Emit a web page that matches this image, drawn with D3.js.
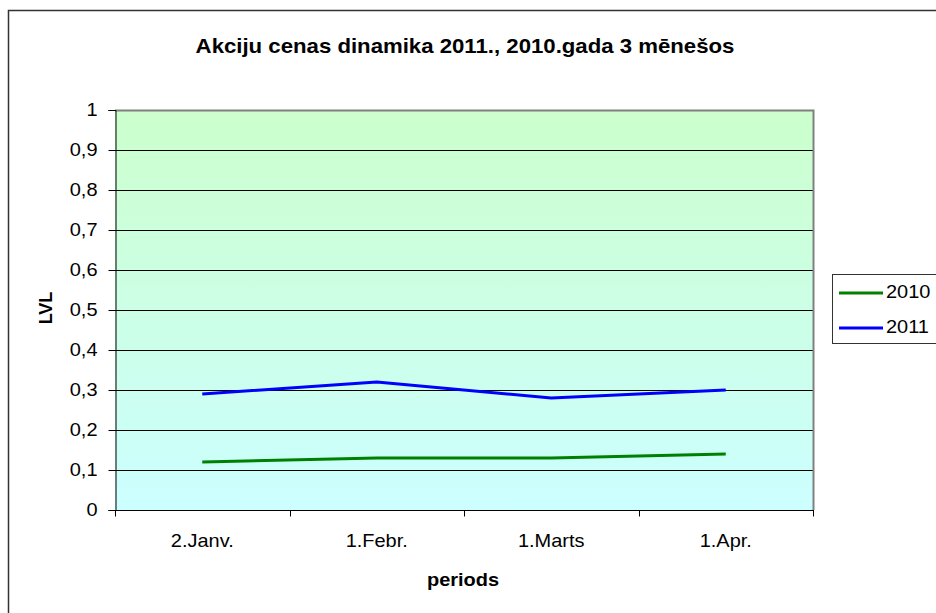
<!DOCTYPE html>
<html>
<head>
<meta charset="utf-8">
<script src="https://cdn.jsdelivr.net/npm/d3@7"></script>
<style>
  body { margin: 0; background: #fff; }
  svg { display: block; font-family: Arial, "Liberation Sans", sans-serif; }
</style>
</head>
<body>
<svg width="936" height="613"></svg>
<script>
var categories = ["2.Janv.", "1.Febr.", "1.Marts", "1.Apr."];
var values2010 = [0.12, 0.13, 0.13, 0.14];
var values2011 = [0.29, 0.32, 0.28, 0.30];
var yTicks = [0, 0.1, 0.2, 0.3, 0.4, 0.5, 0.6, 0.7, 0.8, 0.9, 1];
var seriesNames = ["2010", "2011"];
var seriesColors = ["#008000", "#0000ff"];

var svg = d3.select("svg");
var plot = {left: 115, right: 813, top: 110, bottom: 510};
var sx = 1.11; // the original text is a bit wider than Arial

// outer frame (runs off the window at right / bottom)
svg.append("rect")
  .attr("x", 8.5).attr("y", 10.5)
  .attr("width", 1000).attr("height", 700)
  .attr("fill", "none").attr("stroke", "#333").attr("stroke-width", 1.5);

var defs = svg.append("defs");
var grad = defs.append("linearGradient")
  .attr("id", "bg").attr("x1", 0).attr("y1", 0).attr("x2", 0).attr("y2", 1);
grad.append("stop").attr("offset", "0%").attr("stop-color", "#ccffcc");
grad.append("stop").attr("offset", "100%").attr("stop-color", "#ccffff");

var x = d3.scaleBand().domain(categories).range([plot.left, plot.right]);
var y = d3.scaleLinear().domain([0, 1]).range([plot.bottom, plot.top]);

svg.append("rect")
  .attr("x", plot.left).attr("y", plot.top)
  .attr("width", plot.right - plot.left).attr("height", plot.bottom - plot.top)
  .attr("fill", "url(#bg)");

// gridlines
svg.selectAll(".grid")
  .data(yTicks.filter(function(d){ return d > 0 && d < 1; }))
  .enter().append("line")
  .attr("x1", plot.left).attr("x2", plot.right)
  .attr("y1", function(d){ return Math.round(y(d)) + 0.5; })
  .attr("y2", function(d){ return Math.round(y(d)) + 0.5; })
  .attr("stroke", "#000").attr("stroke-width", 1);

// gray top/right border of plot
svg.append("path")
  .attr("d", "M" + plot.left + "," + (plot.top + 0.5) + "H" + (plot.right + 0.5) + "V" + plot.bottom)
  .attr("fill", "none").attr("stroke", "#808080").attr("stroke-width", 2);

// y axis
var yAxis = svg.append("g")
  .attr("transform", "translate(" + (plot.left + 0.5) + ",0)")
  .call(d3.axisLeft(y).tickValues(yTicks).tickSize(7).tickPadding(0)
    .tickFormat(function(d){ return String(d).replace(".", ","); }));
yAxis.select(".domain").attr("stroke", "#000");
yAxis.selectAll(".tick line").attr("stroke", "#000");
yAxis.selectAll("text")
  .attr("x", -18 / sx)
  .attr("transform", "scale(" + sx + ",1)")
  .attr("font-size", 18).attr("fill", "#000")
  .attr("font-family", "Arial, 'Liberation Sans', sans-serif");

// x axis, ticks at band boundaries
var xAxisG = svg.append("g").attr("transform", "translate(0," + (plot.bottom + 0.5) + ")");
xAxisG.append("line")
  .attr("x1", plot.left).attr("x2", plot.right + 1)
  .attr("stroke", "#000");
var bounds = categories.map(function(c){ return x(c); }).concat([plot.right]);
xAxisG.selectAll(".xt").data(bounds).enter().append("line")
  .attr("x1", function(d){ return Math.round(d) + 0.5; })
  .attr("x2", function(d){ return Math.round(d) + 0.5; })
  .attr("y1", 0).attr("y2", 6).attr("stroke", "#000");
xAxisG.selectAll(".xl").data(categories).enter().append("text")
  .attr("transform", function(d){
    return "translate(" + (x(d) + x.bandwidth() / 2) + ",36) scale(" + sx + ",1)";
  })
  .attr("text-anchor", "middle").attr("font-size", 18)
  .text(function(d){ return d; });

// lines
var line = d3.line()
  .x(function(d, i){ return x(categories[i]) + x.bandwidth() / 2; })
  .y(function(d){ return y(d); });
[values2010, values2011].forEach(function(vals, i) {
  svg.append("path")
    .datum(vals)
    .attr("d", line)
    .attr("fill", "none")
    .attr("stroke", seriesColors[i])
    .attr("stroke-width", 3);
});

// titles
svg.append("text")
  .attr("transform", "translate(465,53) scale(" + sx + ",1)")
  .attr("text-anchor", "middle").attr("font-size", 20).attr("font-weight", "bold")
  .text("Akciju cenas dinamika 2011., 2010.gada 3 mēnešos");
svg.append("text")
  .attr("transform", "translate(463,586) scale(" + sx + ",1)")
  .attr("text-anchor", "middle").attr("font-size", 18).attr("font-weight", "bold")
  .text("periods");
svg.append("text")
  .attr("transform", "translate(52,308) rotate(-90)")
  .attr("text-anchor", "middle").attr("font-size", 18).attr("font-weight", "bold")
  .text("LVL");

// legend
var lg = svg.append("g");
lg.append("rect")
  .attr("x", 832.5).attr("y", 274.5).attr("width", 200).attr("height", 69)
  .attr("fill", "#fff").attr("stroke", "#333").attr("stroke-width", 1);
seriesNames.forEach(function(name, i) {
  var yy = 293 + i * 35;
  lg.append("line")
    .attr("x1", 839).attr("x2", 883).attr("y1", yy).attr("y2", yy)
    .attr("stroke", seriesColors[i]).attr("stroke-width", 3);
  lg.append("text")
    .attr("transform", "translate(886," + (yy + 5) + ") scale(" + sx + ",1)")
    .attr("font-size", 18)
    .text(name);
});
</script>
</body>
</html>
